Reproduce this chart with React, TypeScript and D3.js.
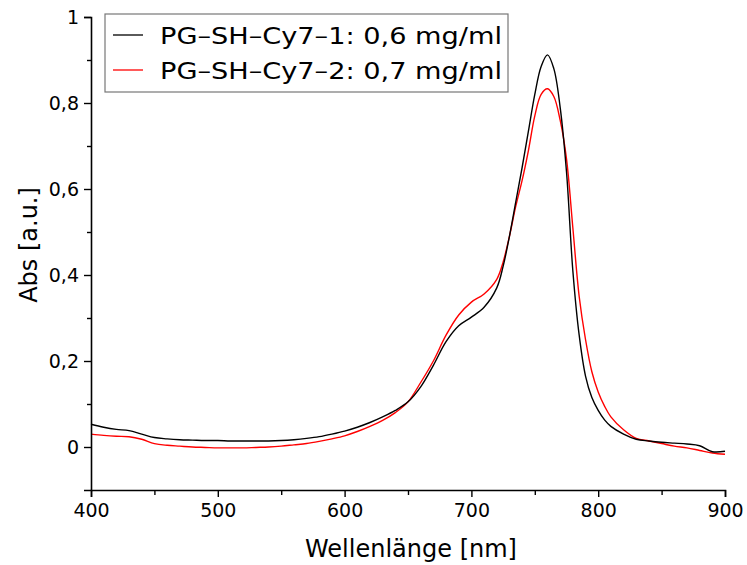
import React, { useEffect, useRef } from 'react';
import * as d3 from 'd3';

// wavelength grid (nm)
const wavelengths = [400, 410, 420, 430, 440, 450, 460, 470, 480, 490, 500, 510, 520, 530, 540, 550, 560, 570, 580, 590, 600, 610, 620, 630, 640, 650, 660, 670, 680, 690, 700, 710, 720, 725, 730, 735, 740, 745, 750, 755, 760, 765, 770, 775, 780, 785, 790, 795, 800, 805, 810, 820, 830, 840, 850, 860, 870, 880, 890, 900];

const absCy7_1 = [0.053, 0.046, 0.041, 0.038, 0.030, 0.022, 0.019, 0.017, 0.016, 0.015, 0.015, 0.014, 0.014, 0.014, 0.014, 0.015, 0.017, 0.020, 0.024, 0.030, 0.037, 0.046, 0.057, 0.070, 0.085, 0.105, 0.140, 0.190, 0.245, 0.282, 0.302, 0.325, 0.370, 0.420, 0.490, 0.570, 0.650, 0.735, 0.820, 0.885, 0.912, 0.880, 0.790, 0.640, 0.410, 0.260, 0.165, 0.115, 0.085, 0.063, 0.048, 0.030, 0.018, 0.014, 0.011, 0.009, 0.007, 0.003, -0.011, -0.010];

const absCy7_2 = [0.030, 0.027, 0.025, 0.024, 0.018, 0.008, 0.004, 0.002, 0.000, -0.001, -0.002, -0.002, -0.002, -0.001, 0.000, 0.002, 0.005, 0.008, 0.013, 0.019, 0.026, 0.036, 0.048, 0.062, 0.080, 0.105, 0.150, 0.200, 0.260, 0.307, 0.337, 0.356, 0.390, 0.430, 0.490, 0.560, 0.620, 0.690, 0.770, 0.820, 0.833, 0.815, 0.760, 0.670, 0.510, 0.350, 0.250, 0.175, 0.128, 0.095, 0.070, 0.040, 0.020, 0.014, 0.008, 0.002, -0.002, -0.008, -0.014, -0.017];

const seriesNames = ['PG\u2013SH\u2013Cy7\u20131: 0,6 mg/ml', 'PG\u2013SH\u2013Cy7\u20132: 0,7 mg/ml'];
const seriesColors = ['#000000', '#ff0000'];

const xMajorTicks = [400, 500, 600, 700, 800, 900];
const xMinorTicks = [450, 550, 650, 750, 850];
const yMajorTicks = [0, 0.2, 0.4, 0.6, 0.8, 1];
const yMinorTicks = [0.1, 0.3, 0.5, 0.7, 0.9];

const font = '"DejaVu Sans", sans-serif';

export default function App() {
  const chart = useRef<SVGSVGElement>(null);

  useEffect(() => {
    document.body.style.margin = '0';
    const svg = d3.select(chart.current);
    svg.selectAll('*').remove();

    const x = d3.scaleLinear().domain([400, 900]).range([91, 725]);
    const y = d3.scaleLinear().domain([-0.1, 1]).range([490, 17]);

    const fmt = (v: number) => (v === 0 || v === 1 ? String(v) : d3.format('.1f')(v).replace('.', ','));

    // data lines
    const series = [absCy7_1, absCy7_2];
    const line = d3.line<number>()
      .x((d, i) => x(wavelengths[i]))
      .y(d => y(d))
      .curve(d3.curveCatmullRom.alpha(0.5));

    // draw red first so black sits on top where they overlap
    [1, 0].forEach(k => {
      svg.append('path')
        .attr('d', line(series[k]))
        .attr('fill', 'none')
        .attr('stroke', seriesColors[k])
        .attr('stroke-width', 1.4);
    });

    // x axis
    const xAxis = svg.append('g').attr('transform', 'translate(0,490)');
    xAxis.call(d3.axisBottom(x).tickValues(xMajorTicks).tickSize(7).tickPadding(7).tickFormat(d => String(d)));
    xAxis.append('g').call(d3.axisBottom(x).tickValues(xMinorTicks).tickSize(5).tickFormat(() => ''))
      .select('.domain').remove();
    xAxis.selectAll('text').attr('font-family', font).attr('font-size', 19).attr('fill', '#000');

    // y axis
    const yAxis = svg.append('g').attr('transform', 'translate(91,0)');
    yAxis.call(d3.axisLeft(y).tickValues(yMajorTicks).tickSize(7).tickPadding(5).tickFormat(d => fmt(d as number)));
    yAxis.append('g').call(d3.axisLeft(y).tickValues(yMinorTicks).tickSize(4).tickFormat(() => ''))
      .select('.domain').remove();
    yAxis.selectAll('text').attr('font-family', font).attr('font-size', 19).attr('fill', '#000');

    svg.selectAll('.domain').attr('stroke', '#000').attr('stroke-width', 1.6);
    svg.selectAll('.tick line').attr('stroke', '#000').attr('stroke-width', 1.4);

    // axis titles
    svg.append('text')
      .attr('x', 411).attr('y', 557)
      .attr('text-anchor', 'middle')
      .attr('font-family', font).attr('font-size', 24)
      .text('Wellenlänge [nm]');

    svg.append('text')
      .attr('transform', 'translate(37,245) rotate(-90)')
      .attr('text-anchor', 'middle')
      .attr('font-family', font).attr('font-size', 24)
      .text('Abs [a.u.]');

    // legend
    const legend = svg.append('g');
    legend.append('rect')
      .attr('x', 105).attr('y', 14).attr('width', 403).attr('height', 78)
      .attr('fill', '#fff').attr('stroke', '#777').attr('stroke-width', 1.2);
    seriesNames.forEach((name, i) => {
      const ly = 35 + i * 35;
      legend.append('line')
        .attr('x1', 113).attr('x2', 143).attr('y1', ly).attr('y2', ly)
        .attr('stroke', seriesColors[i]).attr('stroke-width', 1.3);
      legend.append('text')
        .attr('x', 160).attr('y', ly + 9)
        .attr('font-family', font).attr('font-size', 23)
        .attr('textLength', 342).attr('lengthAdjust', 'spacingAndGlyphs')
        .text(name);
    });
  }, []);

  return (
    <div>
      <svg ref={chart} width={747} height={565}></svg>
    </div>
  );
}
